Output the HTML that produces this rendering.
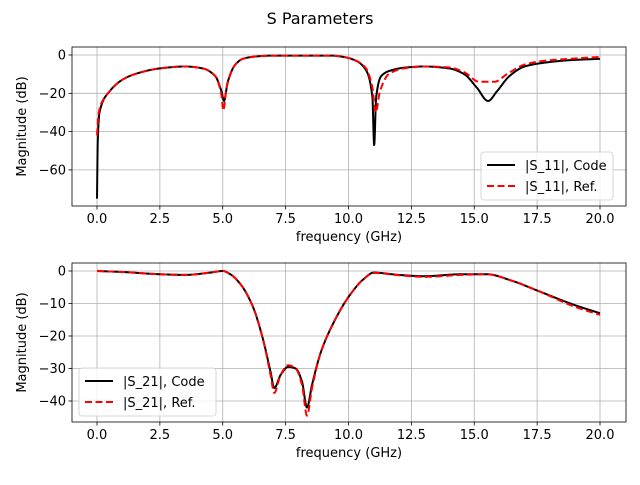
<!DOCTYPE html>
<html><head><meta charset="utf-8"><style>
html,body{margin:0;padding:0;background:#fff;}
svg text{font-family:"DejaVu Sans","Liberation Sans",sans-serif;fill:#000;}
</style></head><body>
<svg id="s" width="640" height="480" xmlns="http://www.w3.org/2000/svg">
<rect width="640" height="480" fill="#fff"/>
<text x="320" y="24" font-size="16" text-anchor="middle">S Parameters</text>
<g id="g"></g>
</svg>
<script>
const NS="http://www.w3.org/2000/svg",G=document.getElementById('g');
function el(t,a,txt){const e=document.createElementNS(NS,t);for(const k in a)e.setAttribute(k,a[k]);if(txt!==undefined)e.textContent=txt;G.appendChild(e);return e;}
const L=72,R=626;
const fx=f=>97+f*25.15;
function mono(P){const n=P.length,xs=P.map(p=>p[0]),ys=P.map(p=>p[1]);const d=[],m=new Array(n);
  for(let i=0;i<n-1;i++)d.push((ys[i+1]-ys[i])/(xs[i+1]-xs[i]));
  m[0]=d[0];m[n-1]=d[n-2];
  for(let i=1;i<n-1;i++){if(d[i-1]*d[i]<=0)m[i]=0;else{const h0=xs[i]-xs[i-1],h1=xs[i+1]-xs[i];const w1=2*h1+h0,w2=h1+2*h0;m[i]=(w1+w2)/(w1/d[i-1]+w2/d[i]);}}
  return x=>{let j=0;while(j<n-2&&x>xs[j+1])j++;const h=xs[j+1]-xs[j],t=(x-xs[j])/h;const t2=t*t,t3=t2*t;
    return (2*t3-3*t2+1)*ys[j]+(t3-2*t2+t)*h*m[j]+(-2*t3+3*t2)*ys[j+1]+(t3-t2)*h*m[j+1];};}
function axes(top,bot,y0,ppd,yt,pts){
  for(let i=0;i<=8;i++){const x=fx(i*2.5);el('line',{x1:x,x2:x,y1:top,y2:bot,stroke:'#b0b0b0','stroke-width':0.8});
    el('line',{x1:x,x2:x,y1:bot,y2:bot+3.5,stroke:'#000','stroke-width':0.8});
    el('text',{x:x,y:bot+17,'font-size':13,'text-anchor':'middle'},(i*2.5).toFixed(1));}
  yt.forEach(v=>{const y=y0-v*ppd;el('line',{x1:L,x2:R,y1:y,y2:y,stroke:'#b0b0b0','stroke-width':0.8});
    el('line',{x1:L-3.5,x2:L,y1:y,y2:y,stroke:'#000','stroke-width':0.8});
    el('text',{x:L-6,y:y+4.5,'font-size':13,'text-anchor':'end'},v===0?'0':'\u2212'+(-v));});
  pts.forEach(s=>{
    const f=mono(s.p);let d='';
    for(let x=0;x<=20.0001;x+=0.005){const v=f(x);d+=(d?'L':'M')+fx(x).toFixed(2)+','+(y0-v*ppd).toFixed(2);}
    el('path',{d:d,fill:'none',stroke:s.c,'stroke-width':2,'stroke-dasharray':s.dash||'none','stroke-linejoin':'round'});
  });
  el('rect',{x:L,y:top,width:R-L,height:bot-top,fill:'none',stroke:'#000','stroke-width':0.8});
  el('text',{x:349,y:bot+35,'font-size':13,'text-anchor':'middle'},'frequency (GHz)');
  const my=(top+bot)/2;el('text',{x:26,y:my,'font-size':13,'text-anchor':'middle',transform:`rotate(-90 26 ${my})`},'Magnitude (dB)');
}
const s11c=[[0,-75],[0.03,-45],[0.1,-30],[0.5,-19],[1,-13],[1.5,-10],[2.5,-7],[3.5,-6],[4.2,-7],[4.7,-11],[4.95,-19],[5.05,-24],[5.2,-14],[5.5,-5],[5.8,-2],[6.3,-0.8],[7,-0.3],[9.3,-0.3],[9.8,-1],[10.3,-3],[10.7,-8],[10.95,-22],[11.02,-47],[11.1,-22],[11.3,-11],[11.7,-8],[12.3,-6.5],[13,-6],[14,-7],[14.6,-10],[15.1,-17],[15.55,-24],[15.9,-19],[16.4,-11],[17,-6],[17.8,-4],[18.8,-2.7],[20,-2]];
const s11r=[[0,-42],[0.05,-32],[0.15,-26],[0.5,-19],[1,-13],[1.5,-10],[2.5,-7],[3.5,-6],[4.2,-7],[4.7,-11],[4.95,-21],[5.02,-29],[5.15,-17],[5.5,-5],[5.8,-2],[6.3,-0.8],[7,-0.3],[9.3,-0.3],[9.8,-1],[10.3,-3],[10.7,-7],[10.95,-17],[11.08,-30],[11.25,-19],[11.6,-10],[12.2,-7],[13,-6],[14,-6.5],[14.6,-9],[15.2,-14],[15.8,-14],[16.3,-10],[17,-5],[17.8,-3],[18.8,-2],[20,-1]];
axes(47,206,55,1.915,[0,-20,-40,-60],[{c:'#000',p:s11c},{c:'#f00',p:s11r,dash:'7,3.5'}]);
const s21c=[[0,0],[1,-0.3],[2.5,-1],[3.5,-1.2],[4.5,-0.5],[5,0],[5.3,-1],[5.7,-4],[6.2,-11],[6.6,-21],[6.9,-31],[7.05,-36],[7.3,-32],[7.6,-29.5],[7.9,-30],[8.15,-34],[8.35,-42],[8.55,-35],[8.9,-25],[9.4,-16],[10,-8],[10.6,-2.5],[11,-0.5],[12,-1.2],[13,-1.6],[14.5,-1],[15.5,-1],[16.5,-3],[17.5,-6],[19,-10.5],[20,-13]];
const s21r=[[0,0],[1,-0.3],[2.5,-1],[3.5,-1.2],[4.5,-0.5],[5,0],[5.3,-1],[5.7,-4],[6.2,-11],[6.6,-21],[6.9,-32],[7.05,-37.5],[7.3,-32],[7.6,-29],[7.9,-30],[8.15,-35],[8.35,-44.5],[8.55,-36],[8.9,-25],[9.4,-16],[10,-8],[10.6,-2.5],[11,-0.6],[12,-1.3],[13,-1.8],[14.5,-1.2],[15.5,-1],[16.5,-3],[17.5,-6],[19,-11],[20,-13.5]];
axes(263,422,271,3.25,[0,-10,-20,-30,-40],[{c:'#000',p:s21c},{c:'#f00',p:s21r,dash:'7,3.5'}]);
function legend(x,y,w,a,b){el('rect',{x:x,y:y,width:w,height:48,rx:3,fill:'#fff','fill-opacity':0.8,stroke:'#ccc','stroke-width':0.8});
  el('line',{x1:x+6,x2:x+34,y1:y+13,y2:y+13,stroke:'#000','stroke-width':2});
  el('text',{x:x+44,y:y+18,'font-size':13},a);
  el('line',{x1:x+6,x2:x+34,y1:y+34,y2:y+34,stroke:'#f00','stroke-width':2,'stroke-dasharray':'7,3.5'});
  el('text',{x:x+44,y:y+39,'font-size':13},b);}
legend(481,152,132,'|S_11|, Code','|S_11|, Ref.');
legend(79,368,137,'|S_21|, Code','|S_21|, Ref.');
</script>
</body></html>
